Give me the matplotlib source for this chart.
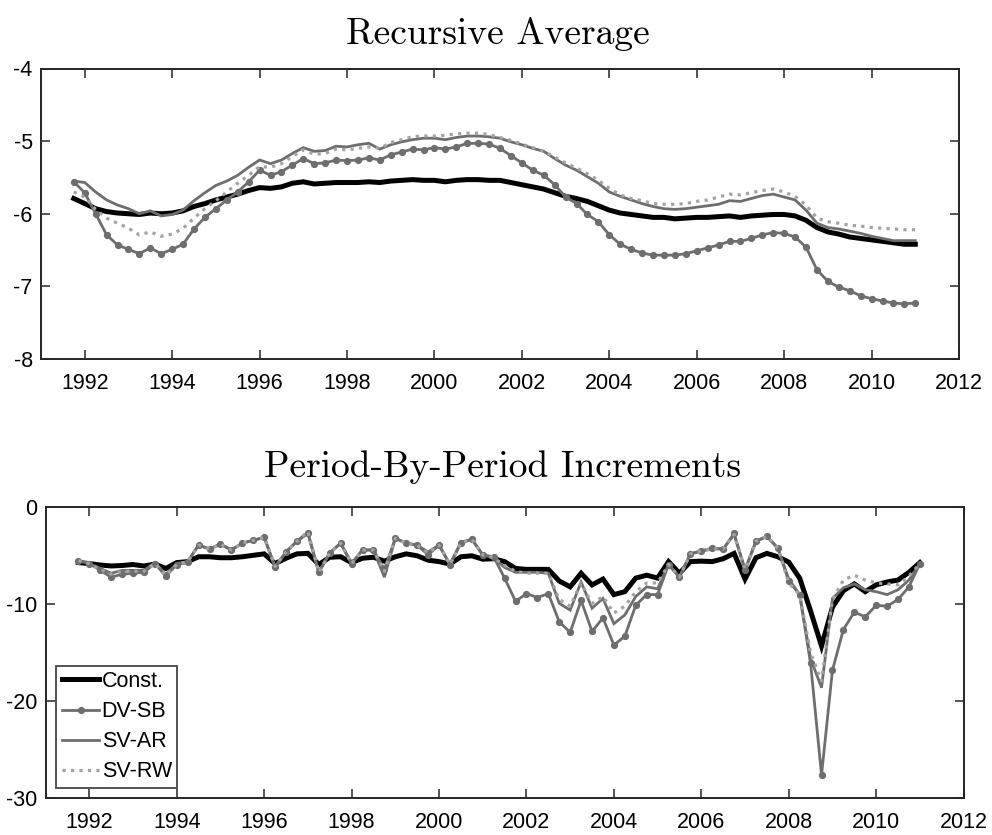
import numpy as np
import pandas as pd
import matplotlib
matplotlib.use("Agg")
import matplotlib.pyplot as plt

plt.rcParams["axes.unicode_minus"] = False
plt.rcParams["font.family"] = ["Liberation Sans", "DejaVu Sans"]

# Quarterly dates 1991Q4 .. 2011Q1 as decimal years
quarters = pd.period_range("1991Q4", "2011Q1", freq="Q")
dates = np.asarray(quarters.year + (quarters.quarter - 1) / 4.0, dtype=float)

series_names = ["Const.", "DV-SB", "SV-AR", "SV-RW"]

# ---------------- Recursive Average ----------------
avg_const = [-5.79, -5.86, -5.93, -5.97, -5.99, -6.00, -6.01, -5.99, -6.00, -5.99,
             -5.96, -5.90, -5.86, -5.81, -5.77, -5.73, -5.68, -5.64, -5.65, -5.63,
             -5.58, -5.56, -5.59, -5.58, -5.57, -5.57, -5.57, -5.56, -5.57, -5.55,
             -5.54, -5.53, -5.54, -5.54, -5.56, -5.54, -5.53, -5.53, -5.54, -5.54,
             -5.57, -5.60, -5.63, -5.66, -5.71, -5.76, -5.79, -5.83, -5.89, -5.95,
             -5.99, -6.01, -6.03, -6.05, -6.05, -6.07, -6.06, -6.05, -6.05, -6.04,
             -6.03, -6.05, -6.03, -6.02, -6.01, -6.01, -6.03, -6.09, -6.19, -6.25,
             -6.28, -6.32, -6.34, -6.36, -6.38, -6.40, -6.42, -6.42]
avg_dvsb = [-5.56, -5.71, -6.00, -6.29, -6.43, -6.49, -6.55, -6.47, -6.55, -6.49,
            -6.42, -6.21, -6.05, -5.93, -5.81, -5.70, -5.56, -5.40, -5.47, -5.42,
            -5.33, -5.24, -5.31, -5.30, -5.26, -5.27, -5.26, -5.23, -5.26, -5.19,
            -5.15, -5.11, -5.12, -5.09, -5.11, -5.08, -5.03, -5.03, -5.04, -5.10,
            -5.20, -5.30, -5.40, -5.47, -5.60, -5.77, -5.86, -6.01, -6.11, -6.29,
            -6.42, -6.49, -6.54, -6.57, -6.57, -6.57, -6.55, -6.51, -6.47, -6.43,
            -6.38, -6.38, -6.34, -6.29, -6.26, -6.27, -6.32, -6.46, -6.77, -6.93,
            -7.01, -7.06, -7.13, -7.17, -7.20, -7.23, -7.24, -7.23]
avg_svar = [-5.55, -5.57, -5.70, -5.81, -5.88, -5.93, -6.00, -5.96, -6.03, -6.01,
            -5.95, -5.82, -5.71, -5.61, -5.55, -5.47, -5.36, -5.26, -5.31, -5.26,
            -5.17, -5.09, -5.14, -5.13, -5.07, -5.08, -5.05, -5.03, -5.11, -5.05,
            -5.01, -4.98, -4.96, -4.96, -4.98, -4.95, -4.93, -4.93, -4.94, -4.96,
            -5.01, -5.05, -5.10, -5.14, -5.24, -5.33, -5.40, -5.49, -5.58, -5.70,
            -5.76, -5.81, -5.86, -5.90, -5.93, -5.94, -5.93, -5.91, -5.89, -5.87,
            -5.82, -5.83, -5.79, -5.75, -5.73, -5.77, -5.81, -5.95, -6.13, -6.19,
            -6.21, -6.24, -6.27, -6.31, -6.34, -6.37, -6.37, -6.37]
avg_svrw = [-5.70, -5.77, -5.94, -6.06, -6.13, -6.20, -6.29, -6.25, -6.31, -6.28,
            -6.20, -6.06, -5.93, -5.82, -5.70, -5.58, -5.47, -5.35, -5.36, -5.31,
            -5.21, -5.12, -5.18, -5.17, -5.11, -5.12, -5.10, -5.08, -5.10, -5.02,
            -4.98, -4.94, -4.93, -4.93, -4.92, -4.90, -4.89, -4.89, -4.91, -4.95,
            -4.99, -5.04, -5.09, -5.14, -5.22, -5.30, -5.37, -5.45, -5.54, -5.65,
            -5.74, -5.79, -5.82, -5.86, -5.87, -5.87, -5.86, -5.83, -5.81, -5.77,
            -5.73, -5.74, -5.71, -5.68, -5.66, -5.70, -5.76, -5.88, -6.06, -6.11,
            -6.13, -6.16, -6.17, -6.19, -6.20, -6.21, -6.22, -6.22]

# ---------------- Period-By-Period Increments ----------------
inc_const = [-5.7, -5.8, -5.95, -6.05, -6.0, -5.9, -6.05, -5.85, -6.3, -5.7,
             -5.6, -5.1, -5.1, -5.2, -5.2, -5.1, -4.95, -4.8, -5.8, -5.25,
             -4.8, -4.75, -5.9, -5.15, -5.1, -5.7, -5.25, -5.15, -5.55, -5.1,
             -4.8, -5.0, -5.45, -5.6, -5.85, -5.1, -5.0, -5.35, -5.3, -5.6,
             -6.3, -6.4, -6.4, -6.4, -7.6, -8.2, -6.8, -8.0, -7.4, -9.0,
             -8.7, -7.3, -7.0, -7.3, -5.6, -6.8, -5.6, -5.55, -5.6, -5.3,
             -4.75, -7.4, -5.2, -4.75, -5.1, -5.65, -7.3, -10.7, -14.3, -10.3,
             -8.6, -7.9, -8.7, -8.0, -7.7, -7.5, -6.7, -5.7]
inc_dvsb = [-5.5, -5.8, -6.5, -7.2, -6.9, -6.8, -6.7, -5.8, -7.1, -5.9,
            -5.6, -3.9, -4.3, -3.8, -4.4, -3.7, -3.4, -3.1, -6.2, -4.6,
            -3.5, -2.7, -6.7, -4.7, -3.7, -5.8, -4.4, -4.4, -6.4, -3.2,
            -3.7, -3.9, -4.9, -3.9, -5.9, -3.7, -3.3, -4.9, -5.1, -7.3,
            -9.7, -8.9, -9.3, -8.9, -11.8, -12.9, -9.6, -12.8, -11.4, -14.2,
            -13.3, -10.1, -9.0, -9.0, -5.9, -7.2, -4.8, -4.5, -4.2, -4.3,
            -2.7, -6.5, -3.5, -3.0, -4.2, -7.6, -9.0, -16.1, -27.6, -16.8,
            -12.6, -10.8, -11.3, -10.1, -10.2, -9.5, -8.2, -5.8]
inc_svar = [-5.5, -5.8, -6.3, -6.8, -6.5, -6.5, -6.5, -5.7, -6.9, -5.8,
            -5.6, -3.9, -4.3, -3.8, -4.4, -3.7, -3.4, -3.1, -6.1, -4.6,
            -3.5, -2.6, -6.7, -4.7, -3.7, -5.8, -4.4, -4.4, -7.2, -3.2,
            -3.7, -3.9, -4.6, -3.9, -5.9, -3.6, -3.3, -4.9, -5.2, -6.2,
            -6.7, -6.7, -6.7, -6.8, -9.9, -10.6, -7.7, -10.4, -9.4, -12.0,
            -11.1, -9.2, -8.2, -8.4, -5.9, -7.2, -4.8, -4.5, -4.3, -4.3,
            -2.8, -6.4, -3.5, -3.0, -4.2, -7.4, -9.0, -15.6, -18.6, -9.4,
            -8.3, -7.9, -8.5, -8.7, -9.0, -8.5, -7.5, -5.8]
inc_svrw = [-5.5, -5.8, -6.4, -6.9, -6.6, -6.6, -6.6, -5.8, -7.0, -5.9,
            -5.6, -3.9, -4.3, -3.8, -4.4, -3.7, -3.4, -3.1, -6.1, -4.6,
            -3.5, -2.5, -6.7, -4.7, -3.7, -5.8, -4.4, -4.4, -6.6, -3.2,
            -3.7, -3.9, -4.7, -3.9, -5.9, -3.7, -3.3, -4.9, -5.2, -6.0,
            -6.6, -6.8, -6.8, -6.8, -9.5, -10.2, -7.8, -9.9, -9.2, -10.9,
            -10.2, -8.7, -7.8, -7.8, -5.9, -7.2, -4.8, -4.5, -4.3, -4.3,
            -2.8, -6.4, -3.5, -3.0, -4.2, -7.8, -9.0, -15.0, -17.9, -9.5,
            -7.5, -7.0, -7.5, -7.8, -7.9, -8.0, -7.1, -5.8]

xticks = [1992, 1994, 1996, 1998, 2000, 2002, 2004, 2006, 2008, 2010, 2012]
yticks_top = [-8, -7, -6, -5, -4]
yticks_bot = [-30, -20, -10, 0]

styles = [
    dict(color="black", lw=3.6, ls="-"),
    dict(color="#6e6e6e", lw=2.0, ls="-", marker="o", ms=4.2, mfc="#6e6e6e", mec="#6e6e6e"),
    dict(color="#6e6e6e", lw=2.0, ls="-"),
    dict(color="#a3a3a3", lw=2.3, ls=":"),
]

frame_col = "#262626"
LABEL_SIZE = 15.5
TITLE_SIZE = 27

fig = plt.figure(figsize=(9.92, 8.35), dpi=100)
W, H = 992.0, 835.0
ax1 = fig.add_axes([41 / W, 1 - 359 / H, 918 / W, (359 - 68.5) / H])
ax2 = fig.add_axes([45.6 / W, 1 - 798.3 / H, 918 / W, (798.3 - 507.3) / H])


def draw(ax, data, yticks, ylim):
    for vals, name, st in zip(data, series_names, styles):
        ax.plot(dates, vals, label=name, solid_joinstyle="miter",
                dash_capstyle="butt", **st)
    ax.set_xlim(1991, 2012)
    ax.set_ylim(*ylim)
    ax.set_xticks(xticks)
    ax.set_yticks(yticks)
    ax.set_xticklabels([str(t) for t in xticks])
    ax.set_yticklabels([str(t) for t in yticks])
    ax.tick_params(direction="in", length=6.5, width=1.1, colors=frame_col,
                   labelcolor="black", labelsize=LABEL_SIZE, top=True, right=True)
    ax.tick_params(axis="x", pad=10)
    ax.tick_params(axis="y", pad=6)
    for sp in ax.spines.values():
        sp.set_color(frame_col)
        sp.set_linewidth(1.4)


draw(ax1, [avg_const, avg_dvsb, avg_svar, avg_svrw], yticks_top, (-8, -4))
draw(ax2, [inc_const, inc_dvsb, inc_svar, inc_svrw], yticks_bot, (-30, 0))

leg = ax2.legend(loc="lower left", fontsize=LABEL_SIZE, frameon=True, fancybox=False,
                 handlelength=1.75, handletextpad=0.1, labelspacing=0.42,
                 borderpad=0.25, borderaxespad=0.5, numpoints=1)
leg.get_frame().set_edgecolor(frame_col)
leg.get_frame().set_linewidth(1.4)

fig.text(498 / W, 1 - 44 / H, "Recursive Average", ha="center", va="baseline",
         fontsize=TITLE_SIZE, family="cmr10")
fig.text(503 / W, 1 - 477 / H, "Period-By-Period Increments", ha="center",
         va="baseline", fontsize=TITLE_SIZE, family="cmr10")

fig.savefig("out.png", dpi=100, facecolor="white")
